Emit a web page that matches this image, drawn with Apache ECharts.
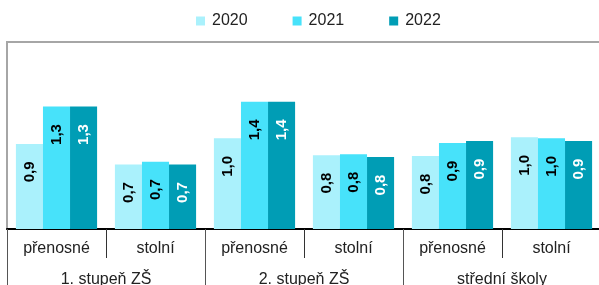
<!DOCTYPE html>
<html><head><meta charset="utf-8">
<script src="https://cdn.jsdelivr.net/npm/echarts@6/dist/echarts.min.js"></script>
<style>html,body{margin:0;padding:0;background:#fff}#c{width:599px;height:285px}</style>
</head><body><div id="c"></div>
<script>
const categories = ['přenosné','stolní','přenosné','stolní','přenosné','stolní'];
const groups = ['1. stupeň ZŠ','2. stupeň ZŠ','střední školy'];
const seriesNames = ['2020','2021','2022'];
const v2020 = [0.91, 0.69, 0.97, 0.79, 0.78, 0.98];
const v2021 = [1.31, 0.72, 1.36, 0.80, 0.92, 0.97];
const v2022 = [1.31, 0.69, 1.36, 0.77, 0.94, 0.94];
const colors = ['#AAF1FC', '#47E2FA', '#009DB5'];
const labelColors = ['#000', '#000', '#fff'];
const values = [v2020, v2021, v2022];

const chart = echarts.init(document.getElementById('c'), null, {renderer:'canvas'});
const font = 'Liberation Sans, Arial, sans-serif';
chart.setOption({
  animation: false,
  textStyle: {fontFamily: font},
  legend: {
    top: 8, left: 191, itemWidth: 9, itemHeight: 9, itemGap: 45,
    icon: 'rect',
    textStyle: {fontSize: 16, color: '#222', fontFamily: font, padding: [0, 0, 0, 2]},
    data: seriesNames
  },
  grid: {left: 7, right: -2, top: 42, bottom: 56, outerBoundsMode: 'none', containLabel: false,
    show: true, borderColor: '#A6A6A6', borderWidth: 2, backgroundColor: 'transparent'},
  xAxis: [{
    type: 'category', data: categories,
    axisLine: {lineStyle: {color: '#000', width: 2}},
    axisTick: {show: true, interval: 0, length: 29, lineStyle: {color: '#333', width: 1}},
    axisLabel: {interval: 0, fontSize: 16, color: '#222', margin: 12, fontFamily: font}
  }, {
    type: 'category', data: groups, position: 'bottom',
    axisLine: {show: false},
    axisTick: {show: true, interval: 0, length: 60, lineStyle: {color: '#555', width: 1}},
    axisLabel: {interval: 0, fontSize: 16, color: '#222', margin: 43, fontFamily: font}
  }],
  yAxis: {type: 'value', min: 0, max: 2, show: false, splitLine: {show: false}},
  series: seriesNames.map((n, i) => ({
    name: n, type: 'bar', xAxisIndex: 0, data: values[i],
    barGap: '0%', barCategoryGap: '18%',
    itemStyle: {color: colors[i]},
    label: {
      show: true, position: ['50%', 28], rotate: 90, align: 'center', verticalAlign: 'middle',
      fontSize: 15, fontWeight: 'bold', color: labelColors[i], fontFamily: font,
      formatter: p => p.value.toFixed(1).replace('.', ',')
    }
  }))
});
</script></body></html>
